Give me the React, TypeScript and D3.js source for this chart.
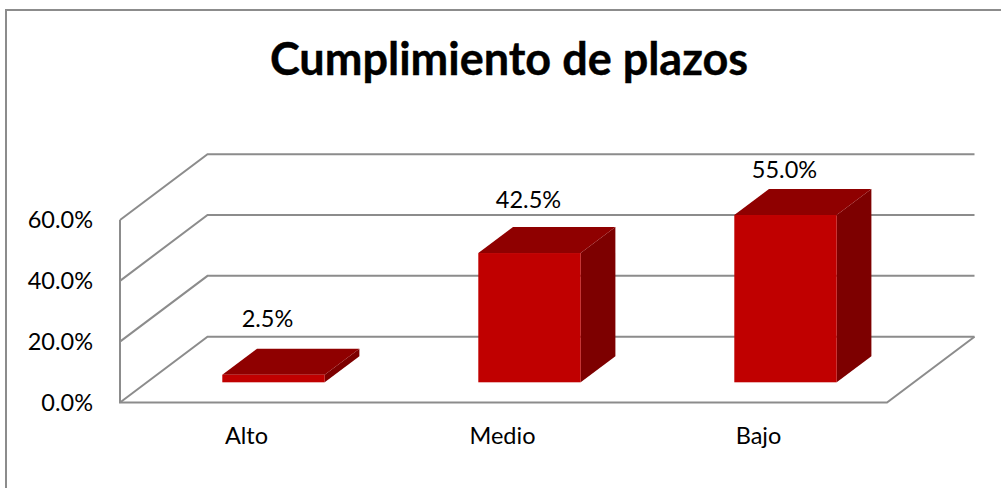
import React from "react";
import * as d3 from "d3";

const categories = ["Alto", "Medio", "Bajo"];
const values = [2.5, 42.5, 55.0];
const valueTicks = [0, 20, 40, 60];
const titleText = "Cumplimiento de plazos";
const labelNudgeX = [-6, -1, -1];
const labelNudgeY = [-22, -19, -11];
const FONT = "Lato, Carlito, sans-serif";

export default function App() {
  const y = d3.scaleLinear().domain([0, 60]).range([402.5, 220]);
  const x = d3.scaleBand<string>().domain(categories).range([145.5, 913.5]).paddingInner(0.6).paddingOuter(0.3);
  const floorDx = 87.5, floorDy = 65.8;
  const frontX0 = 120, frontX1 = 887;
  const depthDx = 34.7, depthDy = 26;
  const base = 382.3;
  const unit = (y(0) - y(1));
  const grid = "#8c8c8c";
  const fmt = d3.format(".1f");
  return (
    <svg width={1001} height={488} style={{ position: "absolute", left: 0, top: 0, background: "#fff" }} fontFamily={FONT}>
      <rect x={6} y={10} width={1100} height={600} fill="#fff" stroke="#8c8c8c" strokeWidth={2} />
      <text x={509} y={75} textAnchor="middle" fontSize={45} fontWeight={700} stroke="#000" strokeWidth={0.4} fill="#000">{titleText}</text>

      {valueTicks.map((t) => (
        <g key={t}>
          <path
            d={d3.line()([[frontX0, y(t)], [frontX0 + floorDx, y(t) - floorDy], [frontX1 + floorDx, y(t) - floorDy]]) ?? ""}
            fill="none" stroke={grid} strokeWidth={2} />
          <text x={93} y={y(t) + 8} textAnchor="end" fontSize={23.5} fill="#000">{`${fmt(t)}%`}</text>
        </g>
      ))}
      <path
        d={d3.line()([[frontX0, y(60)], [frontX0, y(0)], [frontX1, y(0)], [frontX1 + floorDx, y(0) - floorDy]]) ?? ""}
        fill="none" stroke={grid} strokeWidth={2} />

      {categories.map((c, i) => {
        const v = values[i];
        const bx = x(c) ?? 0;
        const bw = x.bandwidth();
        const top = base - v * unit;
        return (
          <g key={c}>
            <path d={d3.line()([[bx + bw, top], [bx + bw + depthDx, top - depthDy], [bx + bw + depthDx, base - depthDy], [bx + bw, base]]) ?? ""} fill="#7d0000" />
            <path d={d3.line()([[bx, top], [bx + depthDx, top - depthDy], [bx + bw + depthDx, top - depthDy], [bx + bw, top]]) ?? ""} fill="#8f0000" />
            <rect x={bx} y={top} width={bw} height={base - top} fill="#c00000" />
            <text x={bx + bw / 2 + labelNudgeX[i]} y={top - depthDy + labelNudgeY[i]} textAnchor="middle" fontSize={23.5} fill="#000">{`${fmt(v)}%`}</text>
            <text x={bx + bw / 2 - 27} y={444} textAnchor="middle" fontSize={23.5} fill="#000">{c}</text>
          </g>
        );
      })}
    </svg>
  );
}
